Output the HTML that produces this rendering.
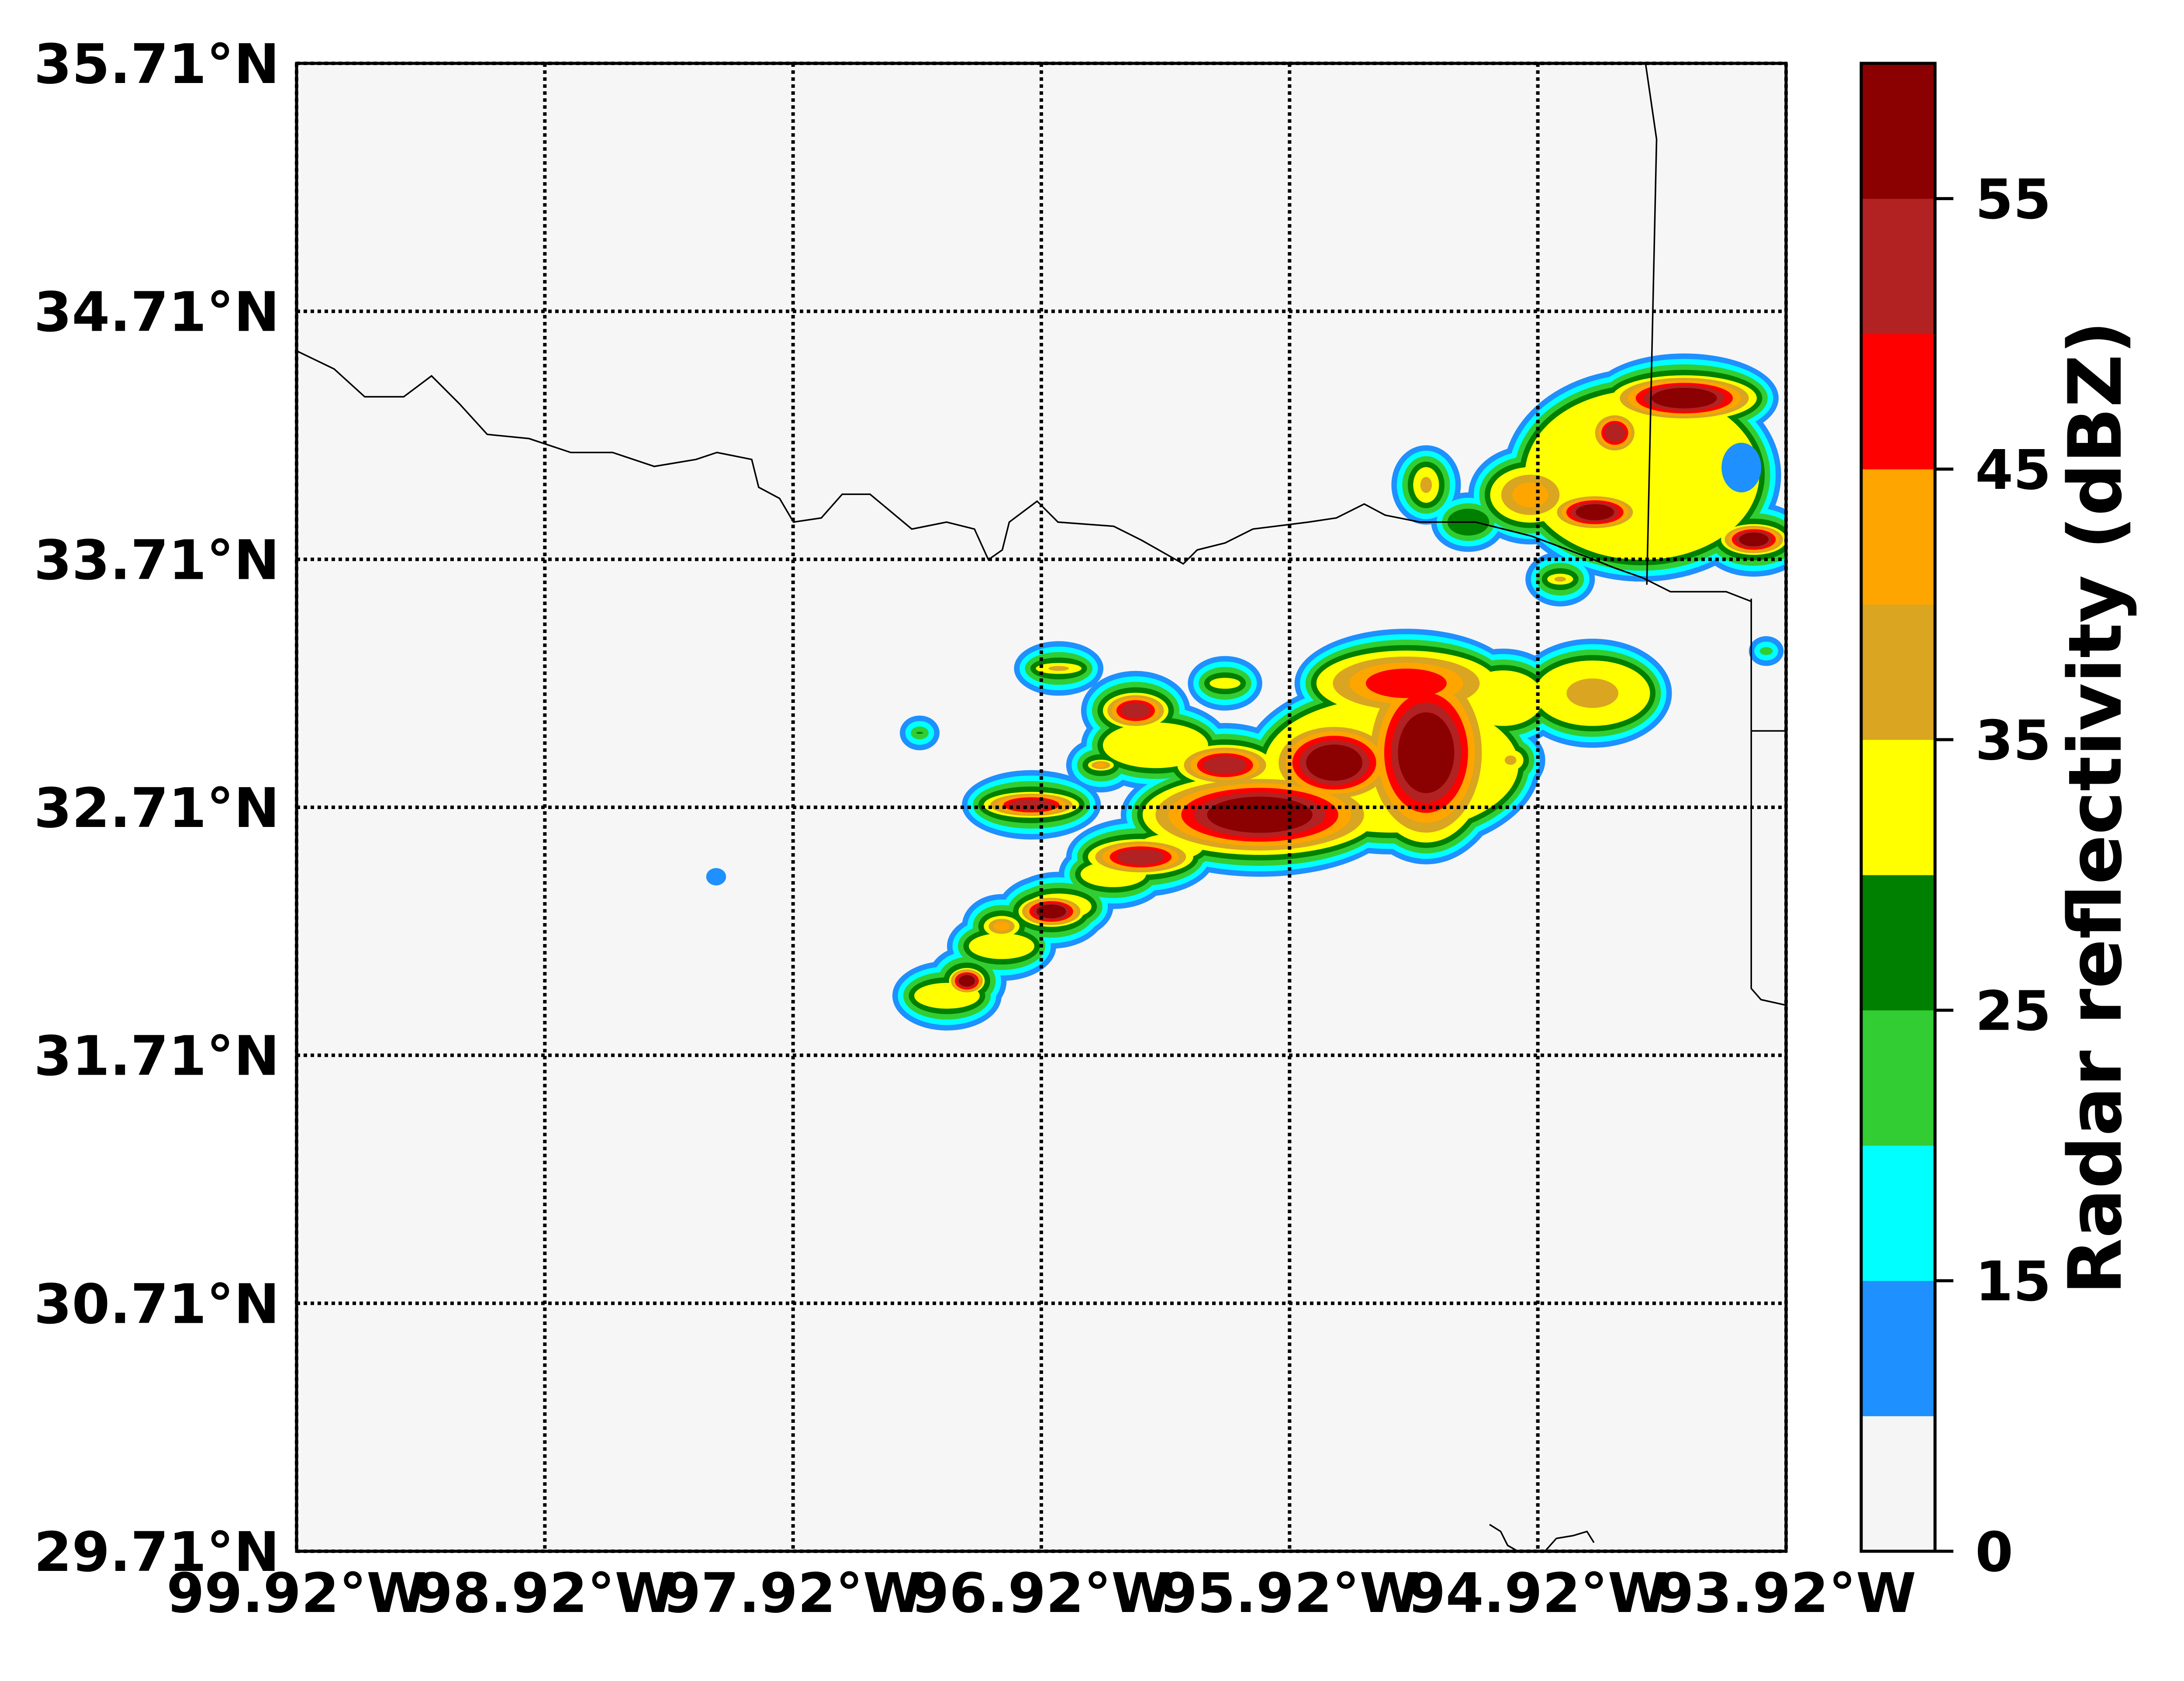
<!DOCTYPE html>
<html><head><meta charset="utf-8">
<style>
html,body{margin:0;padding:0;background:#fff;}
svg{display:block;font-family:"DejaVu Sans","Liberation Sans",sans-serif;font-weight:bold;}
</style></head>
<body>
<svg id="chart" width="5061" height="3848" viewBox="0 0 5061 3848" xmlns="http://www.w3.org/2000/svg">
<defs><clipPath id="plotclip"><rect x="679" y="145" width="3410" height="3406"/></clipPath></defs>
<rect x="0" y="0" width="5061" height="3848" fill="#fff"/>
<rect x="679" y="145" width="3410" height="3406" fill="#f6f6f6"/>
<g id="cells" clip-path="url(#plotclip)"></g>
<g id="borders" clip-path="url(#plotclip)" fill="none" stroke="#000" stroke-width="3.5"></g>
<g id="grid"></g>
<rect x="679" y="145" width="3410" height="3406" fill="none" stroke="#000" stroke-width="7"/>
<g id="colorbar"></g>
<g id="labels"></g>
</svg>
<script>
// ---- data ----
const lonTicks = [-99.92,-98.92,-97.92,-96.92,-95.92,-94.92,-93.92];
const latTicks = [29.71,30.71,31.71,32.71,33.71,34.71,35.71];
const lonTickLabels = ["99.92°W","98.92°W","97.92°W","96.92°W","95.92°W","94.92°W","93.92°W"];
const latTickLabels = ["29.71°N","30.71°N","31.71°N","32.71°N","33.71°N","34.71°N","35.71°N"];
const levels = [0,10,15,20,25,30,35,40,45,50,55,60];
const levelColors = ["#f5f5f5","#1e90ff","#00ffff","#32cd32","#008000","#ffff00","#daa520","#ffa500","#ff0000","#b22222","#8b0000"];
const cbTicks = [0,15,25,35,45,55];
// storm cells: lon, lat, outer radius lon (deg), outer radius lat (deg), peak level index
const cellLon  = [-96.04,-95.74,-95.37,-95.45,-94.70,-95.03,-95.51,-97.30,-97.08,-96.85,-96.63,-96.40,-96.18,-96.52,-96.88,-97.08,-97.22,-96.96,-96.85,-96.54,-96.68,-96.18,-97.41,-98.23,-96.18,-96.46,-94.33,-94.61,-94.69,-94.05,-94.95,-95.37,-95.20,-94.83,-94.50,-94.00,-95.06];
const cellLat  = [32.68,32.89,32.93,33.21,33.17,32.90,32.88,31.95,32.15,32.31,32.44,32.55,32.65,32.51,32.29,32.23,32.01,32.72,33.27,33.10,32.88,33.21,33.01,32.43,32.88,32.96,34.36,34.22,33.90,33.79,33.97,34.01,33.86,33.63,34.05,33.34,33.15];
const cellRx   = [0.56,0.34,0.34,0.45,0.32,0.14,0.60,0.22,0.22,0.22,0.22,0.22,0.22,0.30,0.22,0.16,0.16,0.28,0.18,0.22,0.14,0.15,0.08,0.04,0.28,0.30,0.38,0.18,0.26,0.22,0.25,0.14,0.15,0.14,0.56,0.07,0.25];
const cellRy   = [0.25,0.25,0.45,0.22,0.22,0.13,0.36,0.14,0.14,0.14,0.14,0.14,0.14,0.16,0.15,0.13,0.14,0.14,0.11,0.16,0.11,0.11,0.07,0.035,0.17,0.18,0.18,0.17,0.16,0.15,0.20,0.16,0.12,0.11,0.43,0.06,0.20];
const cellPeak = [10,10,10,8,6,6,5,5,5,5,5,5,5,9,10,7,10,9,6,9,7,5,5,1,9,5,10,9,10,10,7,6,4,6,5,4,5];
// low-reflectivity pocket
const holeLon = [-94.10], holeLat = [34.08], holeRx = [0.08], holeRy = [0.10];

// ---- scales ----
const X0=679, X1=4089, Y0=3551, Y1=145;
const xs = lon => X0 + (lon - lonTicks[0])/(lonTicks[6]-lonTicks[0])*(X1-X0);
const ys = lat => Y0 - (lat - latTicks[0])/(latTicks[6]-latTicks[0])*(Y0-Y1);
const NS="http://www.w3.org/2000/svg";
function mk(tag, attrs, parent){const e=document.createElementNS(NS,tag);for(const k in attrs)e.setAttribute(k,attrs[k]);parent.appendChild(e);return e;}

// ---- cells ----
const gc=document.getElementById('cells');
function radius(r,k,p){
  let v = r - Math.min(k-1,4)*0.022;
  if(k>5 && p>5){ const base=r-0.088; v = base - (k-5)/(p-5)*base*0.55; }
  return v;
}
for(let k=1;k<=10;k++){
  for(let i=0;i<cellLon.length;i++){
    if(cellPeak[i]<k) continue;
    const rx=radius(cellRx[i],k,cellPeak[i]);
    const ry=radius(cellRy[i],k,cellPeak[i]);
    if(rx<=0||ry<=0) continue;
    const e=mk('ellipse',{cx:xs(cellLon[i]),cy:ys(cellLat[i]),rx:rx/6*(X1-X0),ry:ry/6*(Y0-Y1),fill:levelColors[k]},gc);
    
    
  }
}
for(let i=0;i<holeLon.length;i++){
  const e=mk('ellipse',{cx:xs(holeLon[i]),cy:ys(holeLat[i]),rx:holeRx[i]/6*(X1-X0),ry:holeRy[i]/6*(Y0-Y1),fill:levelColors[1]},gc);
  
  
}

// ---- borders (map geometry, thumbnail coords scaled) ----
const S=3.187;
const borderLines=[
 [[213,252],[240,265],[262,285],[290,285],[310,270],[330,290],[350,312],[380,315],[410,325],[440,325],[470,335],[500,330],[515,325],[540,330],[545,350],[560,358],[570,375],[590,372],[605,355],[625,355],[655,380],[680,375],[700,380],[710,402],[720,395],[725,375],[745,360],[760,375],[800,378],[820,388],[850,405],[860,395],[880,390],[900,380],[940,375],[960,372],[980,362],[995,370],[1020,375],[1060,375],[1100,385],[1140,400],[1160,408],[1180,415],[1200,425],[1240,425],[1258,432]],
 [[1182,45],[1190,100],[1183,420]],
 [[1258,430],[1258,710],[1265,718],[1283,722]],
 [[1258,525],[1283,525]],
 [[1070,1095],[1078,1100],[1083,1110],[1090,1114]],
 [[1110,1114],[1118,1105],[1130,1103],[1140,1100],[1145,1108]]
];
const gb=document.getElementById('borders');
borderLines.forEach(l=>{
  const p=mk('polyline',{points:l.map(q=>(q[0]*S)+','+(q[1]*S)).join(' ')},gb);
  
  
});

// ---- grid + labels ----
const gg=document.getElementById('grid'), gl=document.getElementById('labels');
lonTicks.forEach((v,i)=>{
  const l=mk('line',{x1:xs(v),x2:xs(v),y1:Y1,y2:Y0,stroke:'#000','stroke-width':8,'stroke-dasharray':'8 8'},gg);
  
  
  const t=mk('text',{x:xs(v),y:3690,'font-size':125,'text-anchor':'middle',fill:'#000'},gl);
  t.textContent=lonTickLabels[i];
  
  
});
latTicks.forEach((v,i)=>{
  const l=mk('line',{x1:X0,x2:X1,y1:ys(v),y2:ys(v),stroke:'#000','stroke-width':8,'stroke-dasharray':'8 8'},gg);
  
  
  const t=mk('text',{x:640,y:ys(v)+45,'font-size':125,'text-anchor':'end',fill:'#000'},gl);
  t.textContent=latTickLabels[i];
  
  
});

// ---- colorbar ----
const gcb=document.getElementById('colorbar');
const CB0=4261, CB1=4430, nSeg=levelColors.length;
const segH=(Y0-Y1)/nSeg;
const cbY = v => { const i=levels.indexOf(v); return Y0 - i*segH; };
levelColors.forEach((c,i)=>{
  const r=mk('rect',{x:CB0,y:Y0-(i+1)*segH,width:CB1-CB0,height:segH+0.5,fill:c},gcb);
  
  
});
const cf=mk('rect',{x:CB0,y:Y1,width:CB1-CB0,height:Y0-Y1,fill:'none',stroke:'#000','stroke-width':7},gcb);


cbTicks.forEach(v=>{
  const y=cbY(v);
  const l=mk('line',{x1:CB1,x2:4472,y1:y,y2:y,stroke:'#000','stroke-width':7},gcb);
  
  
  const t=mk('text',{x:4522,y:y+45,'font-size':125,fill:'#000'},gcb);
  t.textContent=String(v);
  
  
});
const cl=mk('text',{x:0,y:0,'font-size':168,'text-anchor':'middle',fill:'#000',transform:'translate(4855,1849) rotate(-90)'},gcb);
cl.textContent='Radar reflectivity (dBZ)';


</script>
</body></html>
